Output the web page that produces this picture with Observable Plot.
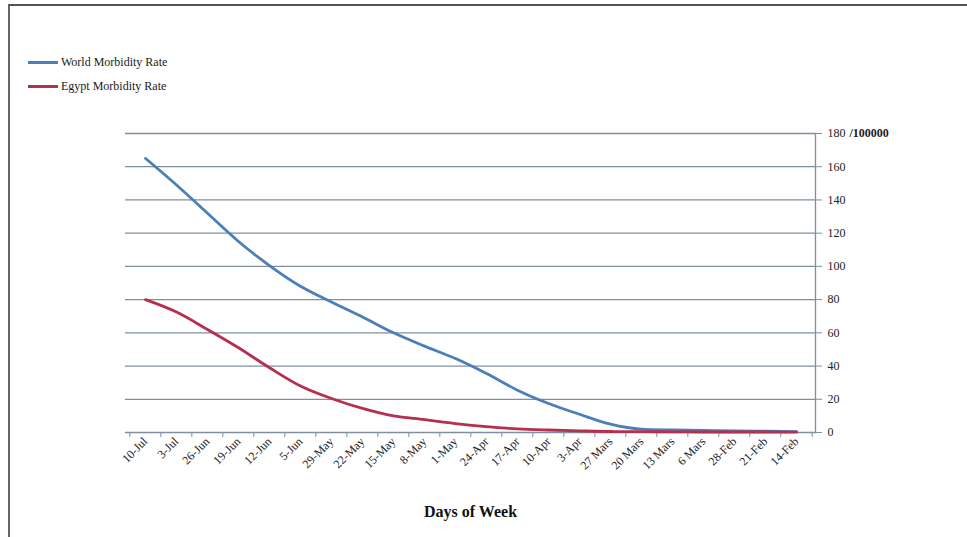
<!DOCTYPE html>
<html>
<head>
<meta charset="utf-8">
<script src="https://cdn.jsdelivr.net/npm/d3@7"></script>
<script src="https://cdn.jsdelivr.net/npm/@observablehq/plot@0.6"></script>
<style>
  html, body { margin: 0; padding: 0; background: #fff; }
  #wrap { position: relative; width: 967px; height: 537px; overflow: hidden; font-family: "Liberation Serif", "DejaVu Serif", serif; }
  #border { position: absolute; left: 8px; top: 4px; right: 0; bottom: 0; border-top: 2px solid #555; border-left: 2px solid #666; pointer-events: none; }
  #legend { position: absolute; left: 28px; top: 50px; font-size: 12px; color: #1a1a1a; }
  .item { display: flex; align-items: center; height: 24px; }
  .sw { width: 30px; height: 3px; margin-right: 3px; }
  #chart { position: absolute; left: 0; top: 0; }
  svg g[aria-label="x-axis label"] text { font-weight: bold; font-size: 16px; fill: #111; }
</style>
</head>
<body>
<div id="wrap">
  <div id="chart"></div>
  <div id="border"></div>
  <div id="legend"></div>
</div>
<script>
const categories = ["10-Jul","3-Jul","26-Jun","19-Jun","12-Jun","5-Jun","29-May","22-May","15-May","8-May","1-May","24-Apr","17-Apr","10-Apr","3-Apr","27 Mars","20 Mars","13 Mars","6 Mars","28-Feb","21-Feb","14-Feb"];
const worldRate = [165,149,132,115,100.5,88,78.5,69.5,60,52,44.5,35.5,25.5,17.5,11,5,2,1.5,1.2,1,0.8,0.5];
const egyptRate = [80,72.5,62,51,39,28,20.5,14.5,10,7.8,5.4,3.5,2.2,1.5,1,0.6,0.5,0.4,0.3,0.3,0.3,0.2];
const seriesNames = ["World Morbidity Rate", "Egypt Morbidity Rate"];
const seriesColors = ["#4a7fb8", "#b52f4e"];
const yTicks = [0,20,40,60,80,100,120,140,160,180];
const yUnit = "/100000";
const xTitle = "Days of Week";

const rows = [];
categories.forEach((c, i) => {
  rows.push({cat: c, value: worldRate[i], series: seriesNames[0]});
  rows.push({cat: c, value: egyptRate[i], series: seriesNames[1]});
});

const W = 967, H = 537;
const mL = 125, mR = 152, mT = 133, mB = 105;
const step = (W - mL - mR) / categories.length;
const gridColor = "#7f8fa0";

const chart = Plot.plot({
  width: W, height: H,
  marginLeft: mL, marginRight: mR, marginTop: mT, marginBottom: mB,
  style: {fontFamily: '"Liberation Serif", serif', fontSize: "12px", color: "#222", background: "transparent"},
  x: {type: "point", domain: categories, padding: 0.5},
  y: {domain: [0, 180]},
  color: {domain: seriesNames, range: seriesColors},
  marks: [
    Plot.ruleY(yTicks, {stroke: gridColor, strokeWidth: 1.3}),
    Plot.frame({anchor: "right", stroke: gridColor, strokeWidth: 1.3}),
    Plot.ruleX(categories, {x: d => d, y1: 0, y2: 0, insetBottom: -5, dx: -step / 2, stroke: gridColor}),
    Plot.ruleX(categories.slice(-1), {x: d => d, y1: 0, y2: 0, insetBottom: -5, dx: step / 2, stroke: gridColor}),
    Plot.axisY({anchor: "right", ticks: yTicks, tickSize: 6, tickPadding: 6, stroke: gridColor, label: null, fill: "#222"}),
    Plot.text([180], {y: d => d, frameAnchor: "right", dx: 34, text: () => yUnit, textAnchor: "start", fontWeight: "bold", fill: "#1a1a1a"}),
    Plot.axisX({tickSize: 0, tickRotate: -45, tickPadding: 7, label: xTitle, labelAnchor: "center", labelOffset: 84, fill: "#222"}),
    Plot.line(rows, {x: "cat", y: "value", z: "series", stroke: "series", strokeWidth: 2.8, curve: "monotone-x"})
  ]
});
document.getElementById("chart").appendChild(chart);

const legend = document.getElementById("legend");
seriesNames.forEach((n, i) => {
  const d = document.createElement("div");
  d.className = "item";
  d.innerHTML = `<span class="sw" style="background:${seriesColors[i]}"></span><span>${n}</span>`;
  legend.appendChild(d);
});
</script>
</body>
</html>
